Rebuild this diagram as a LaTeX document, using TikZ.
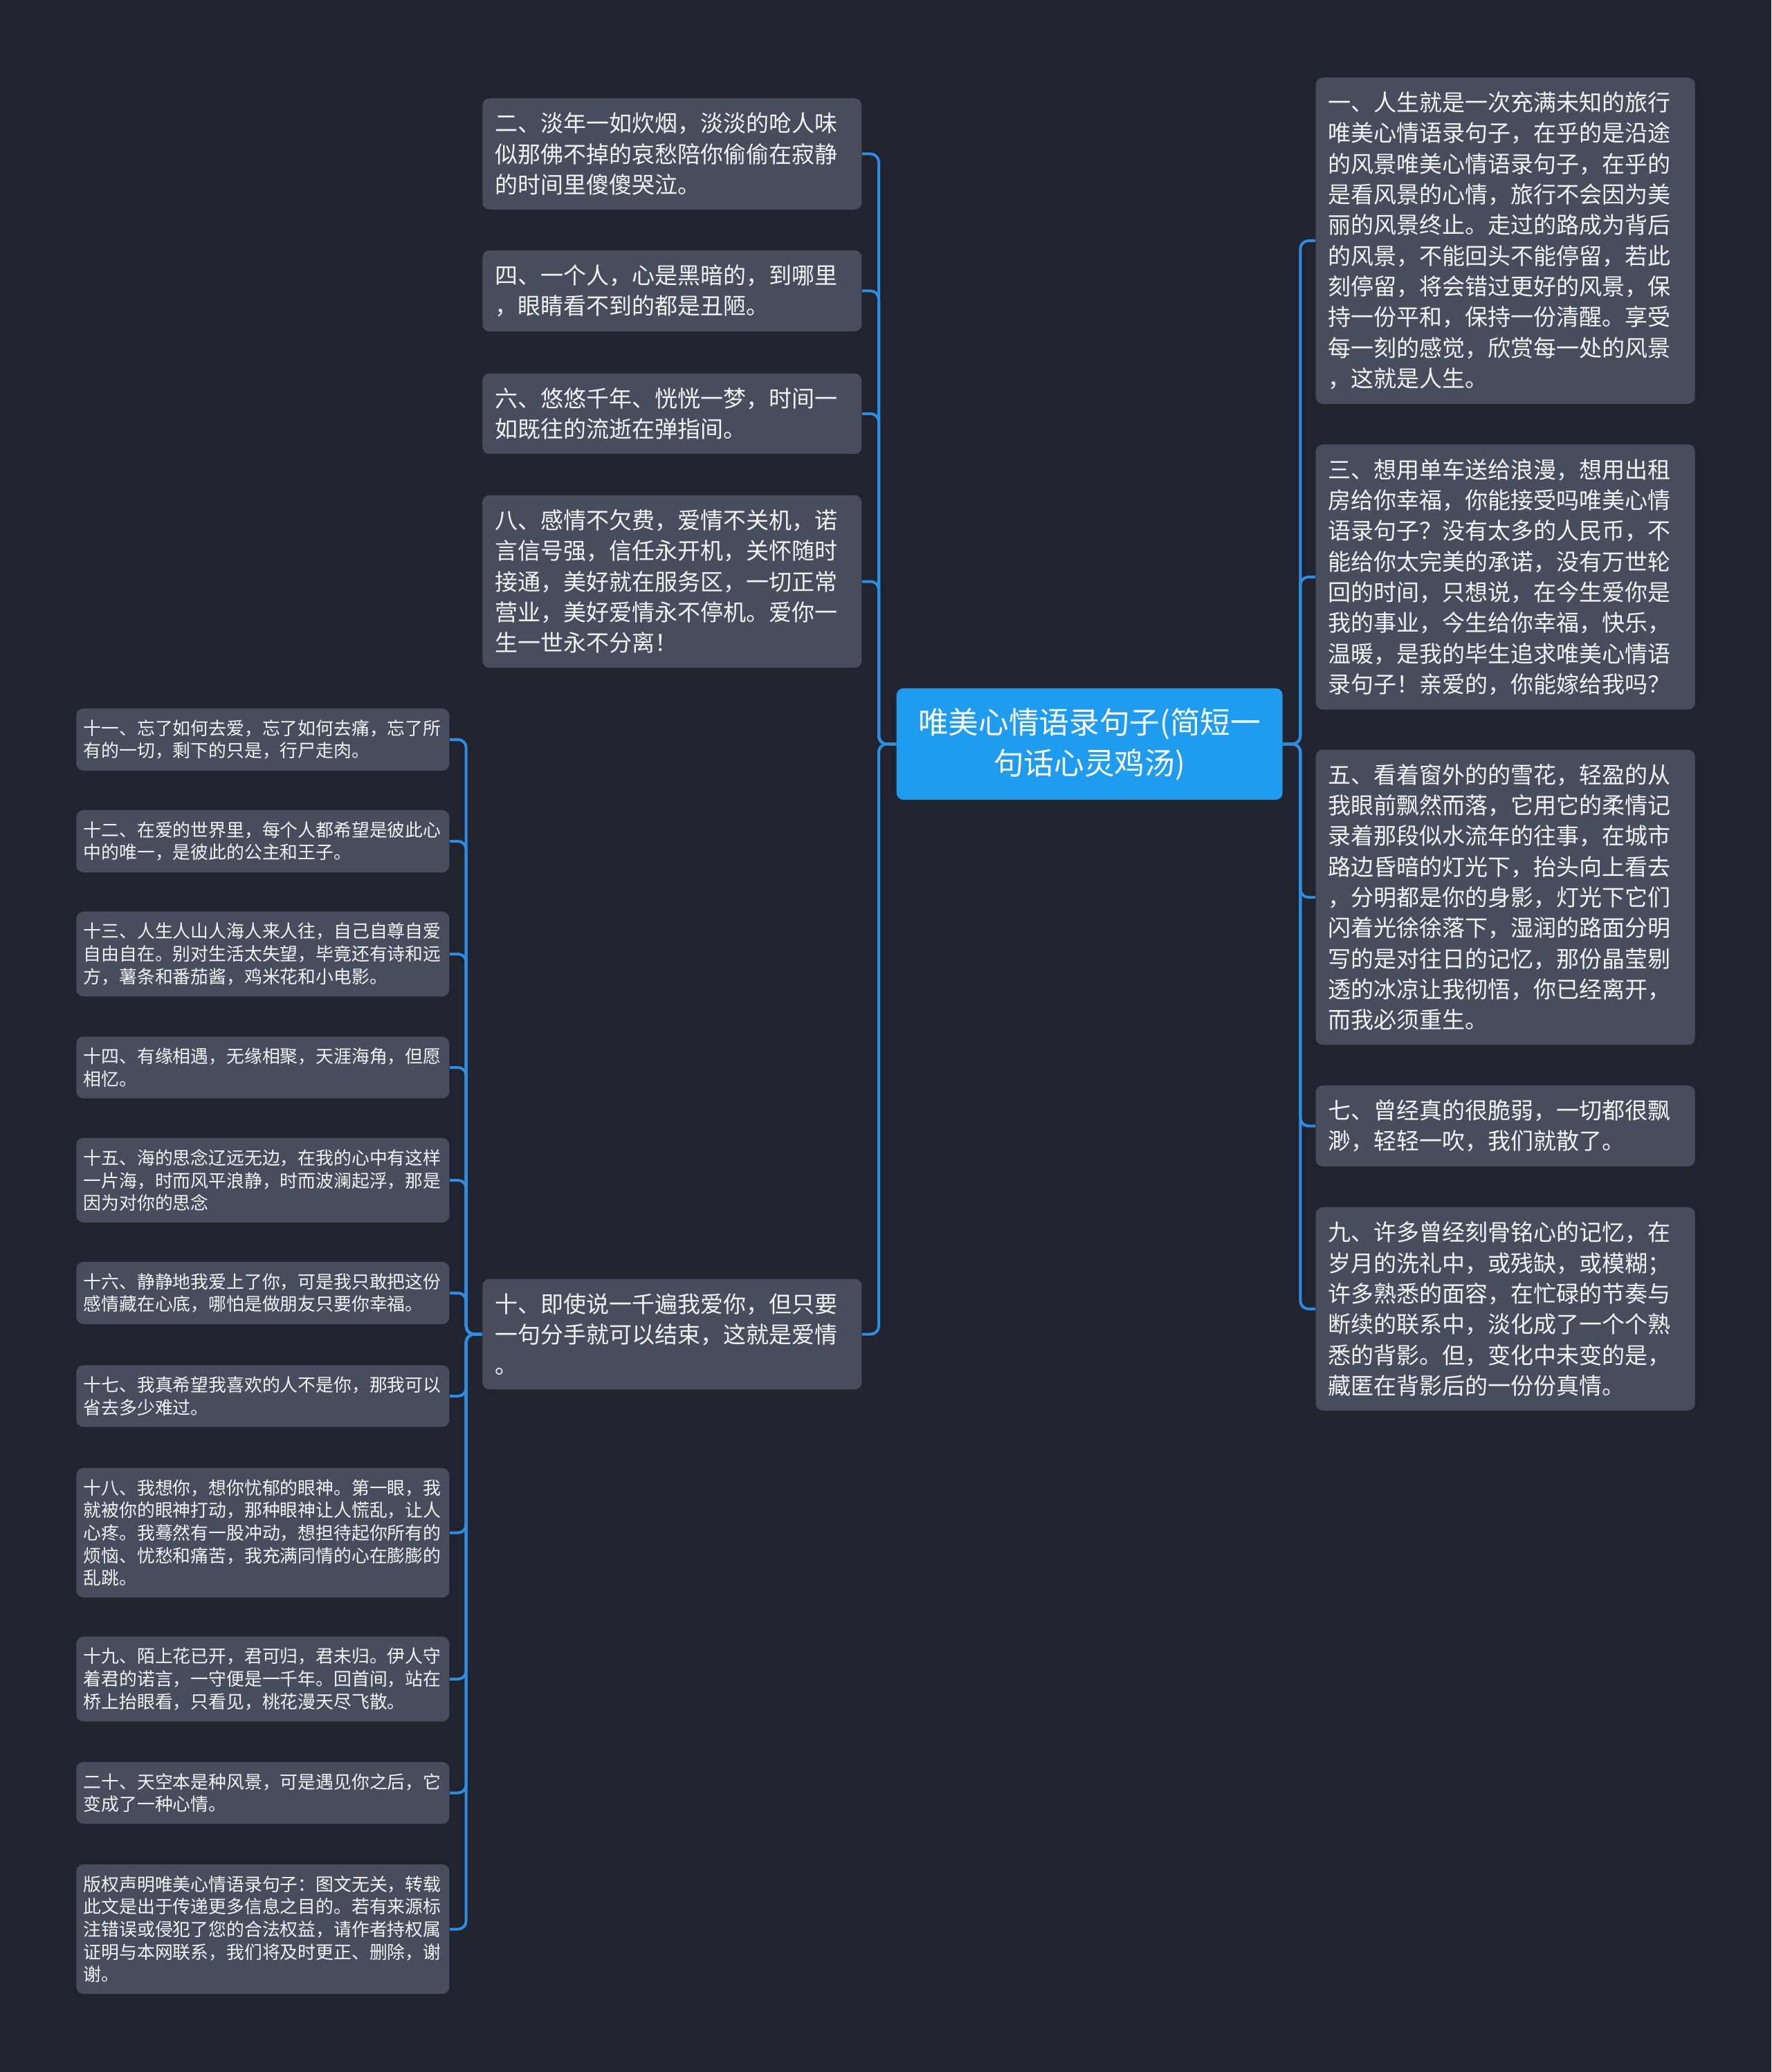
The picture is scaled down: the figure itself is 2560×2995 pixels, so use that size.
\documentclass[tikz,border=0pt]{standalone}
\usepackage{fontspec}
\setmainfont{Noto Sans CJK SC}
\usepackage{xcolor}
\usetikzlibrary{positioning}
\definecolor{bgdark}{HTML}{21242E}
\definecolor{boxgray}{HTML}{474D5C}
\definecolor{rootblue}{HTML}{1F9BF0}
\definecolor{linkblue}{HTML}{2B8DE3}

\begin{document}
\begin{tikzpicture}[x=0.3pt, y=-0.3pt,
    root/.style={fill=rootblue, rounded corners=3pt, text=white, align=center,
      text width=150pt, inner xsep=8.7pt, inner ysep=8.5pt,
      font=\fontsize{13.1pt}{17.7pt}\selectfont},
    leaf/.style={fill=boxgray, rounded corners=3pt, text=white!95!black, align=left,
      text width=153.6pt, inner xsep=5.4pt, inner ysep=6.2pt,
      font=\fontsize{9.9pt}{13.3pt}\selectfont},
    small/.style={leaf, text width=155.5pt, inner xsep=3.1pt, inner ysep=4.9pt,
      font=\fontsize{7.75pt}{9.8pt}\selectfont},
    link/.style={draw=linkblue, line width=1.2pt, rounded corners=3.5pt}]
    \fill[bgdark] (0,0) rectangle (2560,2995);
    \useasboundingbox (0,0) rectangle (2560,2995);

    % centre
    \node[root, anchor=west] (root) at (1295,1075.5) {唯美心情语录句子(简短一\\句话心灵鸡汤)};

    % right side
    \node[leaf, anchor=west] (r1) at (1901,348) {一、人生就是一次充满未知的旅行\\唯美心情语录句子，在乎的是沿途\\的风景唯美心情语录句子，在乎的\\是看风景的心情，旅行不会因为美\\丽的风景终止。走过的路成为背后\\的风景，不能回头不能停留，若此\\刻停留，将会错过更好的风景，保\\持一份平和，保持一份清醒。享受\\每一刻的感觉，欣赏每一处的风景\\，这就是人生。};
    \node[leaf, anchor=west] (r3) at (1901,834) {三、想用单车送给浪漫，想用出租\\房给你幸福，你能接受吗唯美心情\\语录句子？没有太多的人民币，不\\能给你太完美的承诺，没有万世轮\\回的时间，只想说，在今生爱你是\\我的事业，今生给你幸福，快乐，\\温暖，是我的毕生追求唯美心情语\\录句子！亲爱的，你能嫁给我吗？};
    \node[leaf, anchor=west] (r5) at (1901,1297) {五、看着窗外的的雪花，轻盈的从\\我眼前飘然而落，它用它的柔情记\\录着那段似水流年的往事，在城市\\路边昏暗的灯光下，抬头向上看去\\，分明都是你的身影，灯光下它们\\闪着光徐徐落下，湿润的路面分明\\写的是对往日的记忆，那份晶莹剔\\透的冰凉让我彻悟，你已经离开，\\而我必须重生。};
    \node[leaf, anchor=west] (r7) at (1901,1627.5) {七、曾经真的很脆弱，一切都很飘\\渺，轻轻一吹，我们就散了。};
    \node[leaf, anchor=west] (r9) at (1901,1892) {九、许多曾经刻骨铭心的记忆，在\\岁月的洗礼中，或残缺，或模糊；\\许多熟悉的面容，在忙碌的节奏与\\断续的联系中，淡化成了一个个熟\\悉的背影。但，变化中未变的是，\\藏匿在背影后的一份份真情。};

    % left side
    \node[leaf, anchor=east] (m2) at (1246,222.5) {二、淡年一如炊烟，淡淡的呛人味\\似那佛不掉的哀愁陪你偷偷在寂静\\的时间里傻傻哭泣。};
    \node[leaf, anchor=east] (m4) at (1246,420.5) {四、一个人，心是黑暗的，到哪里\\，眼睛看不到的都是丑陋。};
    \node[leaf, anchor=east] (m6) at (1246,598) {六、悠悠千年、恍恍一梦，时间一\\如既往的流逝在弹指间。};
    \node[leaf, anchor=east] (m8) at (1246,840.5) {八、感情不欠费，爱情不关机，诺\\言信号强，信任永开机，关怀随时\\接通，美好就在服务区，一切正常\\营业，美好爱情永不停机。爱你一\\生一世永不分离！};
    \node[leaf, anchor=east] (m10) at (1246,1928.5) {十、即使说一千遍我爱你，但只要\\一句分手就可以结束，这就是爱情\\。};

    % under ten
    \node[small, anchor=east] (s11) at (650,1069) {十一、忘了如何去爱，忘了如何去痛，忘了所\\有的一切，剩下的只是，行尸走肉。};
    \node[small, anchor=east] (s12) at (650,1216) {十二、在爱的世界里，每个人都希望是彼此心\\中的唯一，是彼此的公主和王子。};
    \node[small, anchor=east] (s13) at (650,1379) {十三、人生人山人海人来人往，自己自尊自爱\\自由自在。别对生活太失望，毕竟还有诗和远\\方，薯条和番茄酱，鸡米花和小电影。};
    \node[small, anchor=east] (s14) at (650,1543) {十四、有缘相遇，无缘相聚，天涯海角，但愿\\相忆。};
    \node[small, anchor=east] (s15) at (650,1706) {十五、海的思念辽远无边，在我的心中有这样\\一片海，时而风平浪静，时而波澜起浮，那是\\因为对你的思念};
    \node[small, anchor=east] (s16) at (650,1869) {十六、静静地我爱上了你，可是我只敢把这份\\感情藏在心底，哪怕是做朋友只要你幸福。};
    \node[small, anchor=east] (s17) at (650,2018) {十七、我真希望我喜欢的人不是你，那我可以\\省去多少难过。};
    \node[small, anchor=east] (s18) at (650,2215.5) {十八、我想你，想你忧郁的眼神。第一眼，我\\就被你的眼神打动，那种眼神让人慌乱，让人\\心疼。我蓦然有一股冲动，想担待起你所有的\\烦恼、忧愁和痛苦，我充满同情的心在膨膨的\\乱跳。};
    \node[small, anchor=east] (s19) at (650,2427) {十九、陌上花已开，君可归，君未归。伊人守\\着君的诺言，一守便是一千年。回首间，站在\\桥上抬眼看，只看见，桃花漫天尽飞散。};
    \node[small, anchor=east] (s20) at (650,2591.5) {二十、天空本是种风景，可是遇见你之后，它\\变成了一种心情。};
    \node[small, anchor=east] (scopy) at (650,2788.5) {版权声明唯美心情语录句子：图文无关，转载\\此文是出于传递更多信息之目的。若有来源标\\注错误或侵犯了您的合法权益，请作者持权属\\证明与本网联系，我们将及时更正、删除，谢\\谢。};

    % links
    \foreach \c in {r1,r3,r5,r7,r9}
      \draw[link] (root.east) -- ++(25,0) |- (\c.west);
    \foreach \c in {m2,m4,m6,m8,m10}
      \draw[link] (root.west) -- ++(-25,0) |- (\c.east);
    \foreach \c in {s11,s12,s13,s14,s15,s16,s17,s18,s19,s20,scopy}
      \draw[link] (m10.west) -- ++(-23,0) |- (\c.east);
  \end{tikzpicture}
\end{document}
